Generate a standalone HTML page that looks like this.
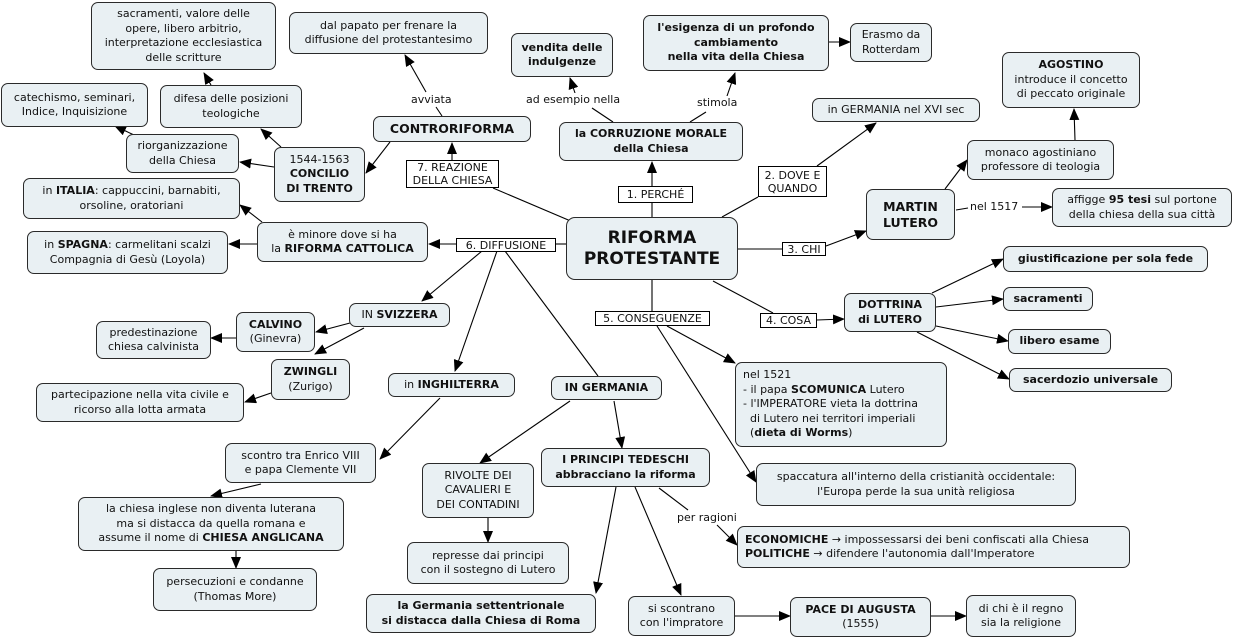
<!DOCTYPE html>
<html><head><meta charset="utf-8">
<style>
html,body{margin:0;padding:0;background:#fff;}
#c{position:relative;width:1234px;height:639px;overflow:hidden;font-family:"DejaVu Sans","Liberation Sans",sans-serif;font-size:11px;color:#111;}
.b{position:absolute;box-sizing:border-box;border:1.3px solid #2a2a2a;border-radius:7px;background:#e9f0f3;display:flex;align-items:center;justify-content:center;text-align:center;line-height:14.5px;white-space:nowrap;}
.l{position:absolute;box-sizing:border-box;border:1px solid #000;background:#fff;display:flex;align-items:center;justify-content:center;text-align:center;line-height:13px;white-space:nowrap;}
.t{position:absolute;background:#fff;white-space:nowrap;line-height:13px;}
svg{position:absolute;left:0;top:0;}
</style></head><body><div id="c">
<svg width="1234" height="639">
<defs><marker id="a" markerUnits="userSpaceOnUse" markerWidth="12" markerHeight="10" refX="11" refY="5" orient="auto"><path d="M0,0 L12,5 L0,10 z" fill="#000"/></marker></defs>
<g stroke="#000" stroke-width="1.1" fill="none">
<line x1="573" y1="222" x2="493" y2="188"/>
<line x1="452" y1="160" x2="452" y2="143" marker-end="url(#a)"/>
<line x1="442" y1="116" x2="436" y2="107"/>
<line x1="426" y1="92" x2="405" y2="55" marker-end="url(#a)"/>
<line x1="390" y1="142" x2="366" y2="173" marker-end="url(#a)"/>
<line x1="281" y1="147" x2="261" y2="129" marker-end="url(#a)"/>
<line x1="211" y1="85" x2="204" y2="73" marker-end="url(#a)"/>
<line x1="274" y1="167" x2="240" y2="162" marker-end="url(#a)"/>
<line x1="134" y1="135" x2="115" y2="126" marker-end="url(#a)"/>
<line x1="262" y1="222" x2="240" y2="205" marker-end="url(#a)"/>
<line x1="257" y1="244" x2="229" y2="244" marker-end="url(#a)"/>
<line x1="456" y1="244" x2="429" y2="244" marker-end="url(#a)"/>
<line x1="566" y1="244" x2="556" y2="244"/>
<line x1="652" y1="217" x2="652" y2="203"/>
<line x1="652" y1="186" x2="652" y2="162" marker-end="url(#a)"/>
<line x1="613" y1="122" x2="592" y2="108"/>
<line x1="575" y1="93" x2="570" y2="78" marker-end="url(#a)"/>
<line x1="690" y1="122" x2="706" y2="112"/>
<line x1="727" y1="96" x2="735" y2="73" marker-end="url(#a)"/>
<line x1="829" y1="42" x2="850" y2="42" marker-end="url(#a)"/>
<line x1="722" y1="217" x2="758" y2="197"/>
<line x1="817" y1="166" x2="876" y2="123" marker-end="url(#a)"/>
<line x1="738" y1="249" x2="782" y2="249"/>
<line x1="826" y1="246" x2="866" y2="231" marker-end="url(#a)"/>
<line x1="945" y1="189" x2="967" y2="160" marker-end="url(#a)"/>
<line x1="1075" y1="140" x2="1074" y2="109" marker-end="url(#a)"/>
<line x1="956" y1="210" x2="968" y2="208"/>
<line x1="1022" y1="207" x2="1052" y2="207" marker-end="url(#a)"/>
<line x1="713" y1="281" x2="773" y2="313"/>
<line x1="817" y1="320" x2="844" y2="319" marker-end="url(#a)"/>
<line x1="932" y1="293" x2="1003" y2="259" marker-end="url(#a)"/>
<line x1="936" y1="307" x2="1003" y2="299" marker-end="url(#a)"/>
<line x1="936" y1="326" x2="1008" y2="341" marker-end="url(#a)"/>
<line x1="917" y1="332" x2="1009" y2="379" marker-end="url(#a)"/>
<line x1="652" y1="280" x2="652" y2="311"/>
<line x1="667" y1="326" x2="735" y2="363" marker-end="url(#a)"/>
<line x1="657" y1="326" x2="756" y2="482" marker-end="url(#a)"/>
<line x1="482" y1="251" x2="422" y2="301" marker-end="url(#a)"/>
<line x1="497" y1="251" x2="455" y2="371" marker-end="url(#a)"/>
<line x1="505" y1="251" x2="598" y2="376"/>
<line x1="350" y1="323" x2="316" y2="332" marker-end="url(#a)"/>
<line x1="364" y1="328" x2="315" y2="354" marker-end="url(#a)"/>
<line x1="236" y1="338" x2="211" y2="338" marker-end="url(#a)"/>
<line x1="271" y1="393" x2="245" y2="402" marker-end="url(#a)"/>
<line x1="440" y1="398" x2="380" y2="459" marker-end="url(#a)"/>
<line x1="261" y1="484" x2="211" y2="496" marker-end="url(#a)"/>
<line x1="236" y1="551" x2="236" y2="568" marker-end="url(#a)"/>
<line x1="570" y1="401" x2="480" y2="463" marker-end="url(#a)"/>
<line x1="614" y1="401" x2="622" y2="448" marker-end="url(#a)"/>
<line x1="488" y1="518" x2="488" y2="542" marker-end="url(#a)"/>
<line x1="616" y1="487" x2="596" y2="593" marker-end="url(#a)"/>
<line x1="635" y1="487" x2="681" y2="595" marker-end="url(#a)"/>
<line x1="659" y1="488" x2="688" y2="510"/>
<line x1="717" y1="525" x2="737" y2="545" marker-end="url(#a)"/>
<line x1="735" y1="616" x2="790" y2="616" marker-end="url(#a)"/>
<line x1="931" y1="616" x2="966" y2="616" marker-end="url(#a)"/>
</g></svg>

<div class="b" style="left:91px;top:2px;width:185px;height:68px"><span>sacramenti, valore delle<br>opere, libero arbitrio,<br>interpretazione ecclesiastica<br>delle scritture</span></div>
<div class="b" style="left:289px;top:12px;width:199px;height:42px"><span>dal papato per frenare la<br>diffusione del protestantesimo</span></div>
<div class="b" style="left:1px;top:83px;width:147px;height:44px"><span>catechismo, seminari,<br>Indice, Inquisizione</span></div>
<div class="b" style="left:160px;top:85px;width:142px;height:43px"><span>difesa delle posizioni<br>teologiche</span></div>
<div class="b" style="left:126px;top:134px;width:113px;height:39px"><span>riorganizzazione<br>della Chiesa</span></div>
<div class="b" style="left:274px;top:147px;width:91px;height:55px"><span>1544-1563<br><b>CONCILIO<br>DI TRENTO</b></span></div>
<div class="b" style="left:23px;top:178px;width:217px;height:41px"><span>in <b>ITALIA</b>: cappuccini, barnabiti,<br>orsoline, oratoriani</span></div>
<div class="b" style="left:27px;top:231px;width:201px;height:43px"><span>in <b>SPAGNA</b>: carmelitani scalzi<br>Compagnia di Gesù (Loyola)</span></div>
<div class="b" style="left:257px;top:222px;width:171px;height:40px"><span>è minore dove si ha<br>la <b>RIFORMA CATTOLICA</b></span></div>
<div class="b" style="left:373px;top:116px;width:158px;height:26px;font-size:12.5px"><b>CONTRORIFORMA</b></div>
<div class="b" style="left:511px;top:33px;width:102px;height:44px"><b>vendita delle<br>indulgenze</b></div>
<div class="b" style="left:643px;top:15px;width:186px;height:56px"><b>l'esigenza di un profondo<br>cambiamento<br>nella vita della Chiesa</b></div>
<div class="b" style="left:850px;top:23px;width:82px;height:39px"><span>Erasmo da<br>Rotterdam</span></div>
<div class="b" style="left:1002px;top:52px;width:138px;height:56px"><span><b>AGOSTINO</b><br>introduce il concetto<br>di peccato originale</span></div>
<div class="b" style="left:812px;top:98px;width:168px;height:24px"><span>in GERMANIA nel XVI sec</span></div>
<div class="b" style="left:967px;top:140px;width:147px;height:40px"><span>monaco agostiniano<br>professore di teologia</span></div>
<div class="b" style="left:866px;top:189px;width:89px;height:51px;font-size:12.5px;line-height:16px"><b>MARTIN<br>LUTERO</b></div>
<div class="b" style="left:1052px;top:188px;width:180px;height:39px"><span>affigge <b>95 tesi</b> sul portone<br>della chiesa della sua città</span></div>
<div class="b" style="left:559px;top:122px;width:184px;height:39px"><b>la CORRUZIONE MORALE<br>della Chiesa</b></div>
<div class="b" style="left:566px;top:217px;width:172px;height:63px;font-size:17px;line-height:21px;border-radius:9px"><b>RIFORMA<br>PROTESTANTE</b></div>
<div class="b" style="left:1003px;top:246px;width:205px;height:26px"><b>giustificazione per sola fede</b></div>
<div class="b" style="left:1003px;top:287px;width:90px;height:24px"><b>sacramenti</b></div>
<div class="b" style="left:1008px;top:329px;width:103px;height:25px"><b>libero esame</b></div>
<div class="b" style="left:1009px;top:368px;width:163px;height:24px"><b>sacerdozio universale</b></div>
<div class="b" style="left:844px;top:293px;width:92px;height:39px"><b>DOTTRINA<br>di LUTERO</b></div>
<div class="b" style="left:735px;top:362px;width:212px;height:85px;justify-content:flex-start;text-align:left;padding-left:7px"><span>nel 1521<br>- il papa <b>SCOMUNICA</b> Lutero<br>- l'IMPERATORE vieta la dottrina<br>&nbsp;&nbsp;di Lutero nei territori imperiali<br>&nbsp;&nbsp;(<b>dieta di Worms</b>)</span></div>
<div class="b" style="left:756px;top:463px;width:320px;height:43px"><span>spaccatura all'interno della cristianità occidentale:<br>l'Europa perde la sua unità religiosa</span></div>
<div class="b" style="left:737px;top:526px;width:393px;height:42px;justify-content:flex-start;text-align:left;padding-left:7px"><span><b>ECONOMICHE</b> → impossessarsi dei beni confiscati alla Chiesa<br><b>POLITICHE</b> → difendere l'autonomia dall'Imperatore</span></div>
<div class="b" style="left:790px;top:597px;width:141px;height:40px"><span><b>PACE DI AUGUSTA</b><br>(1555)</span></div>
<div class="b" style="left:966px;top:595px;width:110px;height:42px"><span>di chi è il regno<br>sia la religione</span></div>
<div class="b" style="left:628px;top:596px;width:107px;height:40px"><span>si scontrano<br>con l'impratore</span></div>
<div class="b" style="left:366px;top:594px;width:230px;height:39px"><b>la Germania settentrionale<br>si distacca dalla Chiesa di Roma</b></div>
<div class="b" style="left:541px;top:448px;width:169px;height:39px"><b>I PRINCIPI TEDESCHI<br>abbracciano la riforma</b></div>
<div class="b" style="left:551px;top:376px;width:111px;height:24px"><b>IN GERMANIA</b></div>
<div class="b" style="left:422px;top:463px;width:112px;height:55px"><span>RIVOLTE DEI<br>CAVALIERI E<br>DEI CONTADINI</span></div>
<div class="b" style="left:407px;top:542px;width:162px;height:42px"><span>represse dai principi<br>con il sostegno di Lutero</span></div>
<div class="b" style="left:388px;top:373px;width:127px;height:24px"><span>in <b>INGHILTERRA</b></span></div>
<div class="b" style="left:225px;top:443px;width:151px;height:40px"><span>scontro tra Enrico VIII<br>e papa Clemente VII</span></div>
<div class="b" style="left:78px;top:497px;width:266px;height:54px"><span>la chiesa inglese non diventa luterana<br>ma si distacca da quella romana e<br>assume il nome di <b>CHIESA ANGLICANA</b></span></div>
<div class="b" style="left:153px;top:568px;width:164px;height:43px"><span>persecuzioni e condanne<br>(Thomas More)</span></div>
<div class="b" style="left:349px;top:303px;width:101px;height:24px"><span>IN <b>SVIZZERA</b></span></div>
<div class="b" style="left:236px;top:312px;width:79px;height:40px"><span><b>CALVINO</b><br>(Ginevra)</span></div>
<div class="b" style="left:96px;top:321px;width:115px;height:38px"><span>predestinazione<br>chiesa calvinista</span></div>
<div class="b" style="left:271px;top:359px;width:79px;height:41px"><span><b>ZWINGLI</b><br>(Zurigo)</span></div>
<div class="b" style="left:36px;top:383px;width:208px;height:39px"><span>partecipazione nella vita civile e<br>ricorso alla lotta armata</span></div>

<div class="l" style="left:406px;top:160px;width:93px;height:28px"><span>7. REAZIONE<br>DELLA CHIESA</span></div>
<div class="l" style="left:618px;top:186px;width:75px;height:17px">1. PERCHÉ</div>
<div class="l" style="left:758px;top:166px;width:69px;height:31px"><span>2. DOVE E<br>QUANDO</span></div>
<div class="l" style="left:782px;top:242px;width:44px;height:14px">3. CHI</div>
<div class="l" style="left:760px;top:313px;width:57px;height:15px">4. COSA</div>
<div class="l" style="left:595px;top:311px;width:115px;height:15px">5. CONSEGUENZE</div>
<div class="l" style="left:456px;top:238px;width:100px;height:14px">6. DIFFUSIONE</div>

<div class="t" style="left:411px;top:93px">avviata</div>
<div class="t" style="left:526px;top:93px">ad esempio nella</div>
<div class="t" style="left:697px;top:96px">stimola</div>
<div class="t" style="left:970px;top:200px">nel 1517</div>
<div class="t" style="left:677px;top:511px">per ragioni</div>
</div></body></html>
